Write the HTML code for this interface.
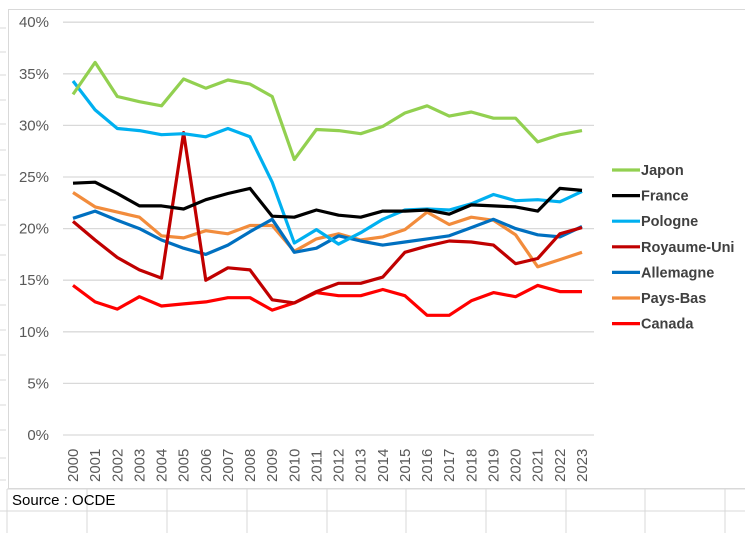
<!DOCTYPE html>
<html><head><meta charset="utf-8"><style>
html,body{margin:0;padding:0;background:#fff;}
body{width:745px;height:533px;overflow:hidden;position:relative;font-family:"Liberation Sans",Arial,sans-serif;}
</style></head><body>
<svg id="s" width="745" height="533" xmlns="http://www.w3.org/2000/svg" style="position:absolute;left:0;top:0">
</svg>
<script>
const s=document.getElementById('s');
let h='';
// spreadsheet background cells
[87,167,247,327,406,486,566,645,725].forEach(x=>{h+=`<line x1="${x}" y1="489" x2="${x}" y2="533" stroke="#d9d9d9"/>`;});
h+=`<line x1="0" y1="511" x2="745" y2="511" stroke="#d9d9d9"/>`;
h+=`<line x1="7" y1="489" x2="745" y2="489" stroke="#d9d9d9"/>`;
h+=`<line x1="7" y1="489" x2="7" y2="533" stroke="#d9d9d9"/>`;
// chart border
h+=`<rect x="8.5" y="9.5" width="745" height="479" fill="#fff" stroke="#d9d9d9"/>`;
[28,52,75,100,124,150,175,200,225,255,280,305,330,355,380,405,430,458,480].forEach(y=>{h+=`<line x1="0" y1="${y}" x2="6" y2="${y}" stroke="#d9d9d9"/>`;});
const y0=435,k=10.32,x0=73,dx=22.13;
for(let i=0;i<=8;i++){const y=y0-i*5*k;h+=`<line x1="63" y1="${y}" x2="594" y2="${y}" stroke="#d9d9d9" stroke-width="1.3"/>`;
h+=`<text x="49" y="${y+5}" text-anchor="end" font-size="15" fill="#595959">${i*5}%</text>`;}
for(let i=0;i<24;i++){const x=x0+i*dx;h+=`<text transform="translate(${x+5},482) rotate(-90)" font-size="15" fill="#595959">${2000+i}</text>`;}
const D=[
["#92d050",[33,36.1,32.8,32.3,31.9,34.5,33.6,34.4,34,32.8,26.7,29.6,29.5,29.2,29.9,31.2,31.9,30.9,31.3,30.7,30.7,28.4,29.1,29.5]],
["#000000",[24.4,24.5,23.4,22.2,22.2,21.9,22.8,23.4,23.9,21.2,21.1,21.8,21.3,21.1,21.7,21.7,21.8,21.4,22.3,22.2,22.1,21.7,23.9,23.7]],
["#00b0f0",[34.3,31.5,29.7,29.5,29.1,29.2,28.9,29.7,28.9,24.5,18.6,19.9,18.5,19.6,20.9,21.8,21.9,21.8,22.4,23.3,22.7,22.8,22.6,23.6]],
["#c00000",[20.7,18.9,17.2,16,15.2,29.3,15,16.2,16,13.1,12.8,13.9,14.7,14.7,15.3,17.7,18.3,18.8,18.7,18.4,16.6,17.1,19.5,20.1]],
["#0070c0",[21,21.7,20.8,20,18.9,18.1,17.5,18.4,19.7,20.9,17.7,18.1,19.3,18.8,18.4,18.7,19,19.3,20.1,20.9,20,19.4,19.2,20.2]],
["#f28c3c",[23.5,22.1,21.6,21.1,19.3,19.1,19.8,19.5,20.3,20.3,17.8,19,19.5,18.9,19.2,19.9,21.6,20.4,21.1,20.8,19.4,16.3,17,17.7]],
["#ff0000",[14.5,12.9,12.2,13.4,12.5,12.7,12.9,13.3,13.3,12.1,12.8,13.8,13.5,13.5,14.1,13.5,11.6,11.6,13,13.8,13.4,14.5,13.9,13.9]]];
// draw order: bottom first so Japon on top-ish
[6,5,4,3,2,1,0].forEach(j=>{const [c,v]=D[j];h+=`<polyline fill="none" stroke="${c}" stroke-width="3.2" stroke-linejoin="round" points="${v.map((a,i)=>(x0+i*dx).toFixed(1)+','+(y0-a*k).toFixed(1)).join(' ')}"/>`;});
const L=["Japon","France","Pologne","Royaume-Uni","Allemagne","Pays-Bas","Canada"];
L.forEach((n,i)=>{const y=170+i*25.6;h+=`<line x1="612" y1="${y}" x2="640" y2="${y}" stroke="${D[i][0]}" stroke-width="3.2"/>`;
h+=`<text x="641" y="${y+5}" font-size="14.5" font-weight="bold" fill="#404040">${n}</text>`;});
h+=`<text x="12" y="505" font-size="15" fill="#000">Source : OCDE</text>`;
s.innerHTML=h;
</script>
</body></html>
